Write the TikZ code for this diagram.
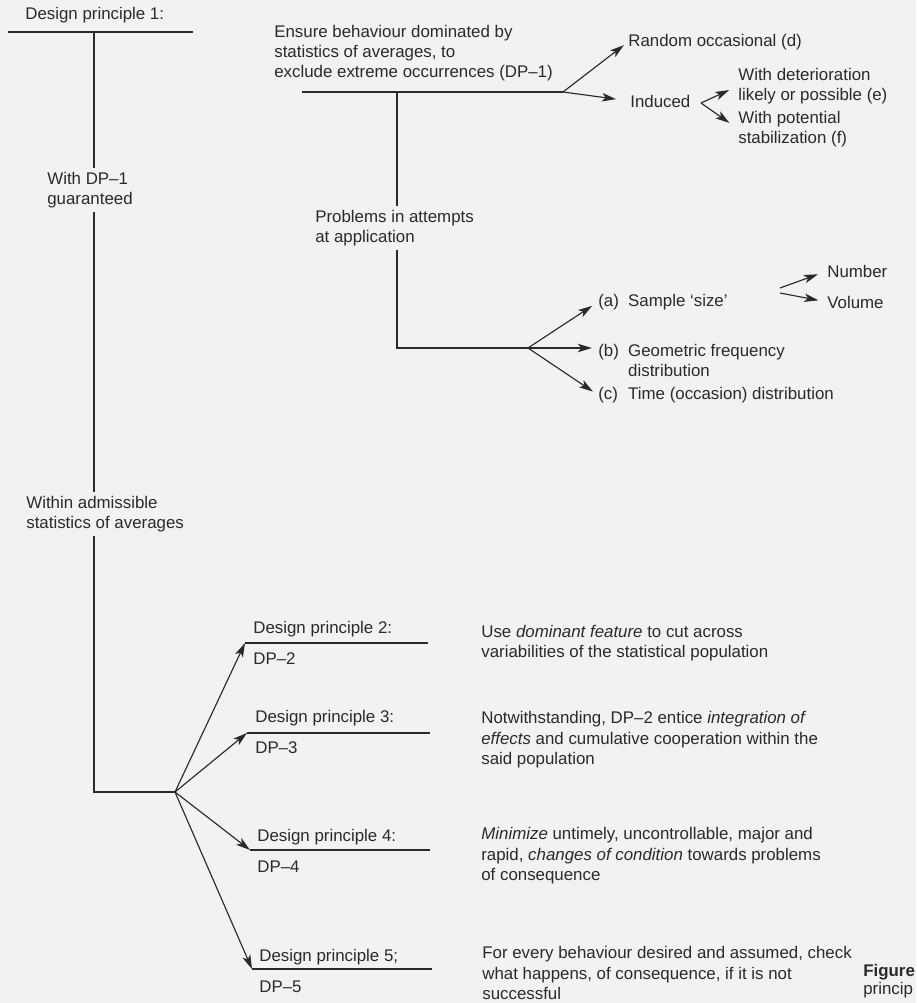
\documentclass[tikz,border=0pt]{standalone}
\usepackage{fontspec}
\setmainfont{Liberation Sans}
\usetikzlibrary{arrows.meta}
\definecolor{paper}{HTML}{F2F2F0}
\definecolor{ink}{HTML}{2A2A2A}
\begin{document}
\begin{tikzpicture}[x=0.02cm,y=-0.02cm,
  txt/.style={inner xsep=0pt, inner ysep=2pt, anchor=west, align=left,
    font=\fontsize{9.6}{11.4}\selectfont, text=ink},
  desc/.style={txt, font=\fontsize{9.6}{11.6}\selectfont},
  ln/.style={draw=ink, line width=0.65pt},
  arr/.style={ln, -{Stealth[length=8pt,width=4.8pt,inset=2pt]}}]

\fill[paper] (0,0) rectangle (916,1003);
\useasboundingbox (0,0) rectangle (916,1003);

% ---- Design principle 1 and main spine
\node[txt] (dp1) at (25,15) {Design principle 1:};
\coordinate (dp1L) at (8,32);
\coordinate (dp1R) at (193,32);
\draw[ln] (dp1L) -- (dp1R);
\coordinate (v1) at (94,32);
\node[txt] (with) at (47,190) {With DP–1\\guaranteed};
\node[txt] (within) at (26,514) {Within admissible\\statistics of averages};
\coordinate (corner) at (94,792);
\coordinate (hub2) at (175,792);
\draw[ln] (v1) -- (v1 |- with.north);
\draw[ln] (v1 |- with.south) -- (v1 |- within.north);
\draw[ln] (v1 |- within.south) -- (corner) -- (hub2);

% ---- DP-1 statement
\node[txt] (ensure) at (274,53) {Ensure behaviour dominated by\\statistics of averages, to\\exclude extreme occurrences (DP–1)};
\coordinate (eL) at (302,92);
\coordinate (hubE) at (563,92);
\draw[ln] (eL) -- (hubE);
\node[txt] (rand) at (628,42) {Random occasional (d)};
\node[txt] (ind) at (630,101) {Induced};
\draw[arr, shorten >=3pt] (hubE) -- (rand.west);
\draw[arr, shorten >=8pt] (hubE) -- (ind.west);
\coordinate (hubI) at (701,103);
\node[txt] (det) at (738,86) {With deterioration\\likely or possible (e)};
\node[txt] (stab) at (738,129) {With potential\\stabilization (f)};
\draw[arr, shorten >=5.5pt] (hubI) -- (det.west);
\draw[arr, shorten >=6pt] (hubI) -- (stab.west);

% ---- Problems in attempts
\coordinate (eV) at (397,92);
\node[txt] (prob) at (315,228) {Problems in attempts\\at application};
\coordinate (pcorner) at (397,348);
\coordinate (hubP) at (528,348);
\draw[ln] (eV) -- (eV |- prob.north);
\draw[ln] (pcorner |- prob.south) -- (pcorner) -- (hubP);
\node[txt] (sa) at (598,302) {\makebox[17pt][l]{(a)}Sample ‘size’};
\node[txt] (sb) at (598,360) {\makebox[17pt][l]{(b)}Geometric frequency\\\hspace*{17pt}distribution};
\node[txt] (sc) at (598,395) {\makebox[17pt][l]{(c)}Time (occasion) distribution};
\draw[arr, shorten >=4pt] (hubP) -- (sa.west);
\draw[arr, shorten >=3.5pt] (hubP) -- (hubP -| sb.west);
\draw[arr, shorten >=3.5pt] (hubP) -- (sc.west);
\node[txt] (num) at (827,271) {Number};
\node[txt] (vol) at (827,302) {Volume};
\coordinate (nA) at (780,288);
\coordinate (nB) at (780,293);
\draw[arr, shorten >=5.5pt] (nA) -- (num.west);
\draw[arr, shorten >=5pt] (nB) -- (vol.west);

% ---- Design principles 2-5
\coordinate (l2) at (245,643); \coordinate (r2) at (428,643);
\coordinate (l3) at (247,733); \coordinate (r3) at (430,733);
\coordinate (l4) at (250,850); \coordinate (r4) at (430,850);
\coordinate (l5) at (252,969); \coordinate (r5) at (432,969);
\draw[ln] (l2) -- (r2);
\draw[ln] (l3) -- (r3);
\draw[ln] (l4) -- (r4);
\draw[ln] (l5) -- (r5);
\node[txt] (p2) at (253,629) {Design principle 2:};
\node[txt] (q2) at (253,659) {DP–2};
\node[txt] (p3) at (255,718) {Design principle 3:};
\node[txt] (q3) at (255,748) {DP–3};
\node[txt] (p4) at (257,837) {Design principle 4:};
\node[txt] (q4) at (257,867) {DP–4};
\node[txt] (p5) at (259,957) {Design principle 5;};
\node[txt] (q5) at (259,987) {DP–5};
\draw[arr] (hub2) -- (l2);
\draw[arr] (hub2) -- (l3);
\draw[arr] (hub2) -- (l4);
\draw[arr] (hub2) -- (l5);

\node[desc] (d2) at (481,643) {Use \textit{dominant feature} to cut across\\variabilities of the statistical population};
\node[desc] (d3) at (481,740) {Notwithstanding, DP–2 entice \textit{integration of}\\\textit{effects} and cumulative cooperation within the\\said population};
\node[desc] (d4) at (481,856) {\textit{Minimize} untimely, uncontrollable, major and\\rapid, \textit{changes of condition} towards problems\\of consequence};
\node[desc] (d5) at (482,973) {For every behaviour desired and assumed, check\\what happens, of consequence, if it is not\\successful};
\node[txt, font=\fontsize{9.6}{10.4}\selectfont] (fig) at (863,981) {\textbf{Figure}\\princip};
\end{tikzpicture}
\end{document}
